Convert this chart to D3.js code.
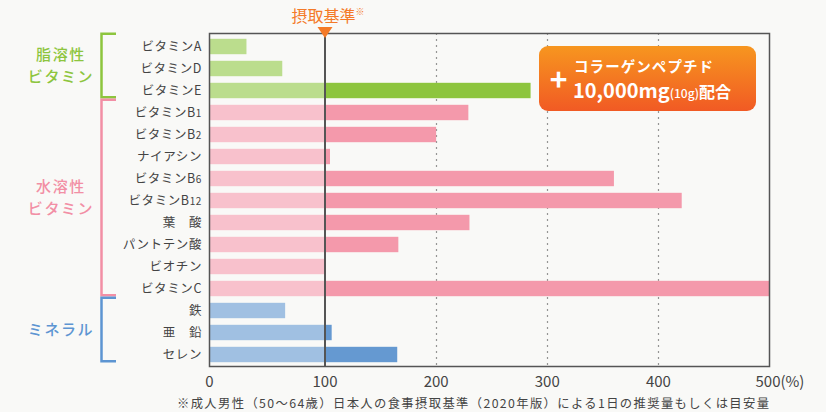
<!DOCTYPE html>
<html><head><meta charset="utf-8">
<script src="https://cdn.jsdelivr.net/npm/d3@7"></script>
<style>
html,body{margin:0;padding:0;background:#f9f9f7;}
svg{display:block;font-family:"Noto Sans CJK JP","Noto Sans",sans-serif;}
</style></head><body>
<svg id="c" width="826" height="412"></svg>
<script>
// ---- data ----
const categories = ["ビタミンA","ビタミンD","ビタミンE","ビタミンB1","ビタミンB2","ナイアシン","ビタミンB6","ビタミンB12","葉　酸","パントテン酸","ビオチン","ビタミンC","鉄","亜　鉛","セレン"];
const subscripts = {"ビタミンB1":"1","ビタミンB2":"2","ビタミンB6":"6","ビタミンB12":"12"};
const values = [32, 63, 285, 229, 200, 104.5, 360, 421, 230, 166, 99.5, 500, 65.5, 106, 165];
const groupOf = ["fat","fat","fat","water","water","water","water","water","water","water","water","water","mineral","mineral","mineral"];
const groupNames = ["fat","water","mineral"];
const groupLabels = {fat:["脂溶性","ビタミン"], water:["水溶性","ビタミン"], mineral:["ミネラル"]};
const tickValues = [0,100,200,300,400,500];
const tickLabels = ["0","100","200","300","400","500(%)"];
const refValue = 100;
const refLabel = "摂取基準";
const footnote = "※成人男性（50～64歳）日本人の食事摂取基準（2020年版）による1日の推奨量もしくは目安量";

const colors = {
  fat:{light:"#bbdd8d", dark:"#8dc53e"},
  water:{light:"#f8c1cc", dark:"#f499ab"},
  mineral:{light:"#a0c0e2", dark:"#6599d1"}
};
const groupColor = {fat:"#8dc53e", water:"#f28fa5", mineral:"#5d95d2"};

const svg = d3.select("#c");
const L = 209.5, R = 769.5, T = 33.5, B = 366.5;
const x = d3.scaleLinear().domain([0,100,500]).range([L,325,R]);
const y = d3.scaleBand().domain(categories).range([35.5,365.5]).paddingInner(0.3).paddingOuter(0.15);

// dotted grid
svg.append("g").selectAll("line").data([200,300,400]).join("line")
  .attr("x1",d=>Math.round(x(d))+0.5).attr("x2",d=>Math.round(x(d))+0.5)
  .attr("y1",T).attr("y2",B)
  .attr("stroke","#333").attr("stroke-width",1.2).attr("stroke-dasharray","1,5");

// bars
const rows = categories.map((c,i)=>({c, v:values[i], g:groupOf[i]}));
const bars = svg.append("g");
bars.selectAll("rect.l").data(rows).join("rect").attr("class","l")
  .attr("x",L).attr("y",d=>y(d.c)).attr("height",y.bandwidth())
  .attr("width",d=>x(Math.min(d.v,refValue))-L)
  .attr("fill",d=>colors[d.g].light);
bars.selectAll("rect.d").data(rows.filter(d=>d.v>refValue)).join("rect").attr("class","d")
  .attr("x",x(refValue)).attr("y",d=>y(d.c)).attr("height",y.bandwidth())
  .attr("width",d=>x(d.v)-x(refValue))
  .attr("fill",d=>colors[d.g].dark);

// frame
svg.append("rect").attr("x",L).attr("y",T).attr("width",R-L).attr("height",B-T)
  .attr("fill","none").attr("stroke","#555").attr("stroke-width",1.5);

// reference line
svg.append("line").attr("x1",x(refValue)).attr("x2",x(refValue)).attr("y1",T).attr("y2",B)
  .attr("stroke","#555").attr("stroke-width",2);
svg.append("path")
  .attr("d",`M${x(refValue)-7.5},27 L${x(refValue)+7.5},27 L${x(refValue)},38 Z`)
  .attr("fill","#f47a28");
const rl = svg.append("text").attr("x",x(refValue)+3).attr("y",22).attr("text-anchor","middle")
  .attr("fill","#f47a28").attr("font-size",16);
rl.append("tspan").text(refLabel);
rl.append("tspan").attr("font-size",9).attr("dy",-7).text("※");

// category labels
const lab = svg.append("g").selectAll("text").data(categories).join("text")
  .attr("x",202).attr("y",d=>y(d)+y.bandwidth()/2+4.5)
  .attr("text-anchor","end").attr("fill","#444").attr("font-size",12.5)
  .attr("letter-spacing",0.6);
lab.each(function(d){
  const t = d3.select(this);
  if (subscripts[d]) {
    t.append("tspan").text(d.slice(0, d.length - subscripts[d].length));
    t.append("tspan").attr("font-size",10).text(subscripts[d]);
  } else t.text(d);
});

// group brackets
groupNames.forEach(g=>{
  const cats = categories.filter((c,i)=>groupOf[i]===g);
  const y0 = y(cats[0]) - 5, y1 = y(cats[cats.length-1]) + y.bandwidth() - 1;
  svg.append("path").attr("d",`M116,${y0} H101.5 V${y1} H116`)
    .attr("fill","none").attr("stroke",groupColor[g]).attr("stroke-width",2.5);
  const lines = groupLabels[g];
  const mid = (y0+y1)/2;
  lines.forEach((s,k)=>{
    svg.append("text").attr("x",61).attr("y",mid + 5.5 + (k-(lines.length-1)/2)*21.5)
      .attr("text-anchor","middle").attr("fill",groupColor[g]).attr("font-size",15)
      .attr("letter-spacing",1.6).attr("font-weight",500).text(s);
  });
});

// x tick labels
svg.append("g").selectAll("text").data(tickValues).join("text")
  .attr("x",(d,i)=> i===tickValues.length-1 ? x(d)-14 : x(d))
  .attr("y",387).attr("text-anchor",(d,i)=> i===tickValues.length-1 ? "start":"middle")
  .attr("fill","#444").attr("font-size",15)
  .text((d,i)=>tickLabels[i]);

// footnote
svg.append("text").attr("x",177).attr("y",408)
  .attr("fill","#444").attr("font-size",12.3)
  .attr("textLength",592).attr("lengthAdjust","spacing").text(footnote);

// badge
const defs = svg.append("defs");
const gr = defs.append("linearGradient").attr("id","og").attr("x1",0).attr("y1",0).attr("x2",0).attr("y2",1);
gr.append("stop").attr("offset","0%").attr("stop-color","#f7961f");
gr.append("stop").attr("offset","100%").attr("stop-color","#f15a24");
svg.append("rect").attr("x",539).attr("y",46).attr("width",217).attr("height",65).attr("rx",9)
  .attr("fill","url(#og)");
svg.append("text").attr("x",558.5).attr("y",91).attr("text-anchor","middle").attr("fill","#fff")
  .attr("font-size",30).attr("font-weight",700).text("+");
svg.append("text").attr("x",574).attr("y",72).attr("fill","#fff").attr("font-size",14.5)
  .attr("font-weight",700).attr("textLength",139).attr("lengthAdjust","spacing").text("コラーゲンペプチド");
const bt = svg.append("text").attr("x",573).attr("y",98).attr("fill","#fff").attr("font-weight",700);
bt.append("tspan").attr("font-size",20).text("10,000mg");
bt.append("tspan").attr("font-size",12).attr("font-weight",500).text("(10g)");
bt.append("tspan").attr("font-size",16).text("配合");
</script>
</body></html>
